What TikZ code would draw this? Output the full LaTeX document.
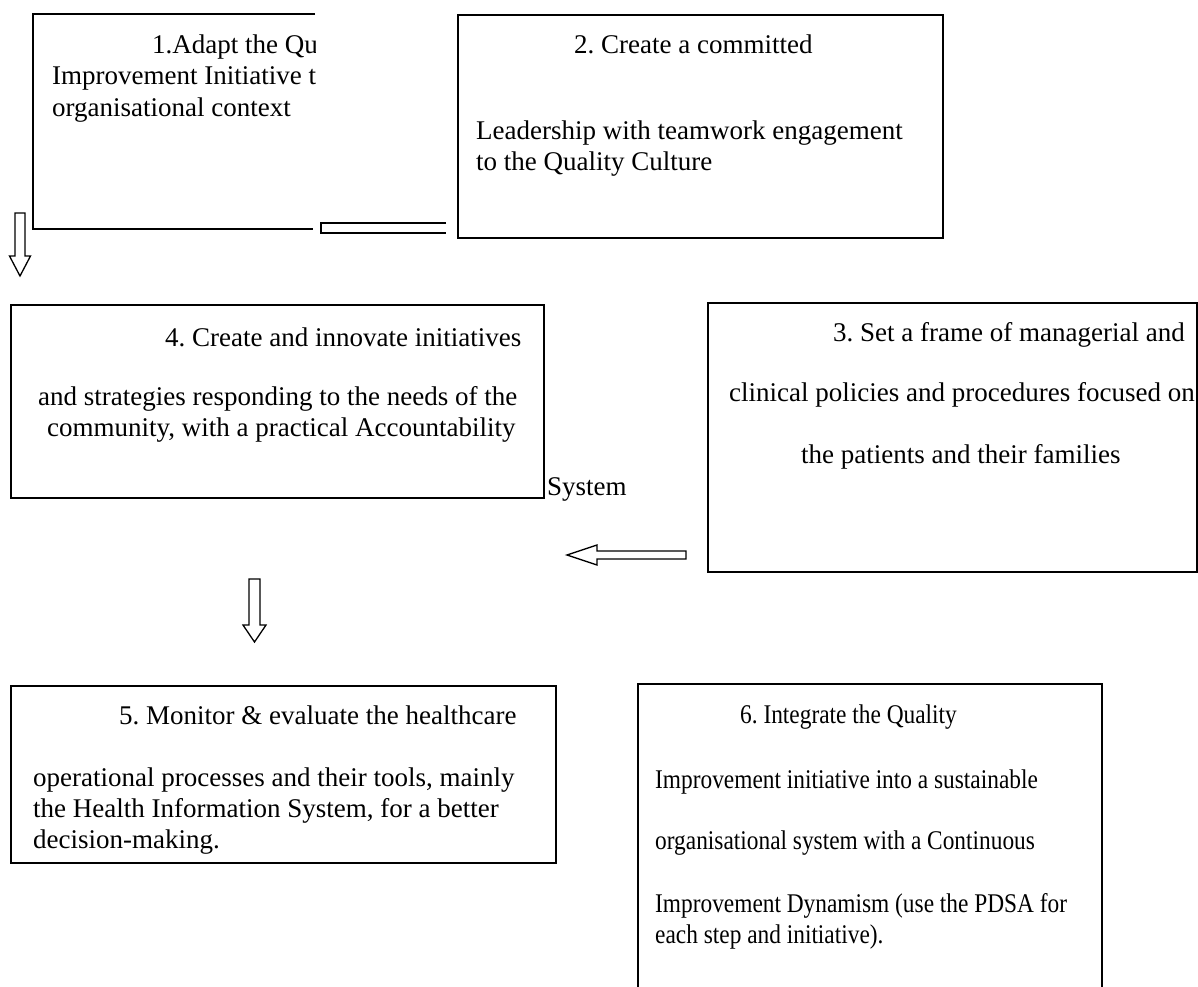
\documentclass[tikz,border=0pt]{standalone}
\usepackage{fontspec}
\setmainfont{Liberation Serif}
\newfontfamily\narrowserif[FakeStretch=0.865]{Liberation Serif}
\frenchspacing
\begin{document}
\begin{tikzpicture}[x=1pt,y=-1pt,
  boxline/.style={draw=black,line width=1.6pt},
  txt/.style={anchor=base west,inner sep=0pt,font=\fontsize{27}{31}\selectfont},
  ntxt/.style={txt,font=\narrowserif\fontsize{27}{31}\selectfont},
  hollow/.style={draw=black,line width=1.3pt,fill=white,line join=miter}]
\useasboundingbox (0,0) rectangle (1198,986);
% ---- Box 1 (partly covered) ----
\coordinate (b1tr) at (315,14);
\coordinate (b1br) at (313,229);
\draw[boxline] (b1tr) -- (33,14) -- (33,229) -- (b1br);
\begin{scope}
\clip (0,0) rectangle (315,229);
\node[txt] (t1a) at (152,53) {1.Adapt the Qu};
\node[txt] (t1b) at (52,84) {Improvement Initiative to};
\node[txt] (t1c) at (52,116) {organisational context};
\end{scope}
% ---- Box 2 ----
\node[boxline,anchor=north west,minimum width=485pt,minimum height=223pt,inner sep=0pt] (b2) at (457,14) {};
\node[txt] (t2a) at (574,53) {2. Create a committed};
\node[txt] (t2b) at (476,139) {Leadership with teamwork engagement};
\node[txt] (t2c) at (476,170) {to the Quality Culture};
% ---- broken arrow body between 2 and 1 ----
\draw[hollow,fill=none] (446,223) -- (321,223) -- (321,233) -- (446,233);
% ---- Box 4 ----
\node[boxline,anchor=north west,minimum width=533pt,minimum height=193pt,inner sep=0pt] (b4) at (10,304) {};
\node[txt] (t4a) at (165,346) {4. Create and innovate initiatives};
\node[txt] (t4b) at (38,405) {and strategies responding to the needs of the};
\node[txt] (t4c) at (47,436) {community, with a practical Accountability};
\node[txt] (t4d) at (547,495) {System};
% ---- Box 3 ----
\node[boxline,anchor=north west,minimum width=489pt,minimum height=269pt,inner sep=0pt] (b3) at (707,302) {};
\node[txt] (t3a) at (833,341) {3. Set a frame of managerial and};
\node[txt] (t3b) at (729,401) {clinical policies and procedures focused on};
\node[txt] (t3c) at (801,463) {the patients and their families};
% ---- Box 5 ----
\node[boxline,anchor=north west,minimum width=545pt,minimum height=177pt,inner sep=0pt] (b5) at (10,685) {};
\node[txt] (t5a) at (119,724) {5. Monitor \& evaluate the healthcare};
\node[txt] (t5b) at (33,786) {operational processes and their tools, mainly};
\node[txt] (t5c) at (33,817) {the Health Information System, for a better};
\node[txt] (t5d) at (33,848) {decision-making.};
% ---- Box 6 (open at bottom) ----
\coordinate (b6bl) at (638,990);
\coordinate (b6br) at (1102,990);
\draw[boxline] (b6bl) -- (638,684) -- (1102,684) -- (b6br);
\node[ntxt] (t6a) at (740,723) {6. Integrate the Quality};
\node[ntxt] (t6b) at (655,788) {Improvement initiative into a sustainable};
\node[ntxt] (t6c) at (655,849) {organisational system with a Continuous};
\node[ntxt] (t6d) at (655,912) {Improvement Dynamism (use the PDSA for};
\node[ntxt] (t6e) at (655,943) {each step and initiative).};
% ---- block arrows ----
\draw[hollow] (15,213) -- (25,213) -- (25,256) -- (30.5,256) -- (20,276) -- (9.5,256) -- (15,256) -- cycle;
\draw[hollow] (249,579) -- (260,579) -- (260,625) -- (266,625) -- (254.5,642) -- (243,625) -- (249,625) -- cycle;
\draw[hollow] (686,551) -- (597,551) -- (597,545) -- (567,555) -- (597,565) -- (597,559) -- (686,559) -- cycle;
\end{tikzpicture}
\end{document}
